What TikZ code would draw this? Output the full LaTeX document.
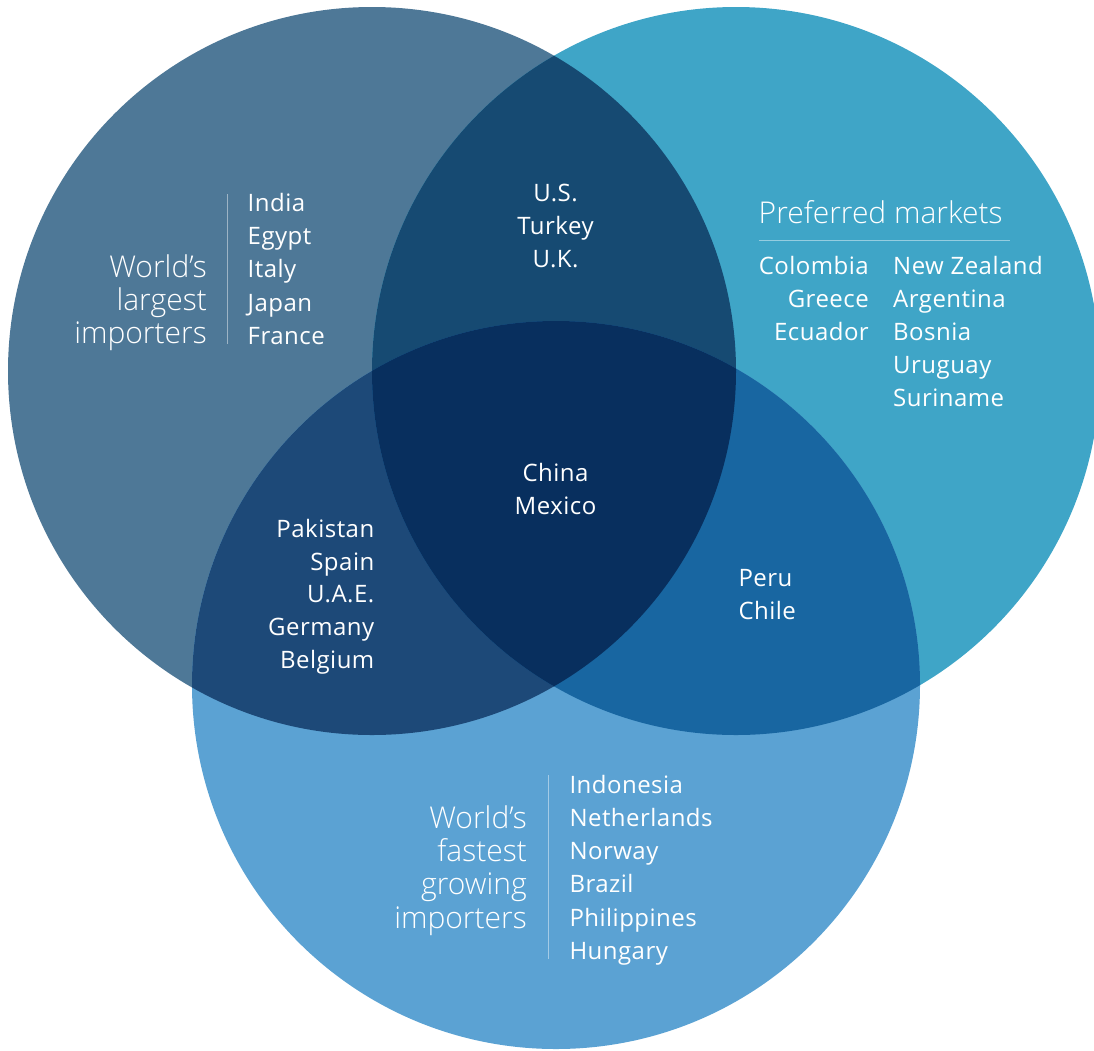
\documentclass[tikz,border=0pt]{standalone}
\usepackage{fontspec}
\setmainfont{Open Sans}
\newfontfamily\nfam[LetterSpace=2]{Open Sans}
\IfFontExistsTF{Open Sans Light}{\newfontfamily\tfam{Open Sans Light}}{%
  \IfFontExistsTF{Lato Light}{\newfontfamily\tfam{Lato Light}}{\newfontfamily\tfam{Open Sans}}}
\definecolor{cL}{HTML}{4E7897}
\definecolor{cR}{HTML}{3FA5C7}
\definecolor{cB}{HTML}{5BA2D3}
\definecolor{cLR}{HTML}{164A72}
\definecolor{cLB}{HTML}{1D4978}
\definecolor{cRB}{HTML}{1866A1}
\definecolor{cAll}{HTML}{082F5E}
\begin{document}
\begin{tikzpicture}[x=1pt,y=-1pt,
  nm/.style={text=white, inner sep=0pt, font=\nfam\fontsize{24}{28}\selectfont},
  ttl/.style={text=white, inner sep=0pt, font=\tfam\fontsize{30}{34}\selectfont},
  sepline/.style={draw=white, draw opacity=0.45, line width=1.2pt}]
\useasboundingbox (0,0) rectangle (1094,1050);
\coordinate (A) at (372,371);
\coordinate (B) at (736,371);
\coordinate (C) at (556,685);
% single circles
\fill[cL] (A) circle[radius=364];
\fill[cR] (B) circle[radius=364];
\fill[cB] (C) circle[radius=364];
% pairwise
\begin{scope}\clip (A) circle[radius=364]; \fill[cLR] (B) circle[radius=364];\end{scope}
\begin{scope}\clip (A) circle[radius=364]; \fill[cLB] (C) circle[radius=364];\end{scope}
\begin{scope}\clip (B) circle[radius=364]; \fill[cRB] (C) circle[radius=364];\end{scope}
\begin{scope}\clip (A) circle[radius=364]; \clip (B) circle[radius=364]; \fill[cAll] (C) circle[radius=364];\end{scope}

% left circle
\foreach \t [count=\i from 0] in {World’s,largest,importers}
  \node[ttl, anchor=base east] (lt\i) at (207,{277.3+33.1*\i}) {\t};
\coordinate (ls1) at (227.5,194);
\coordinate (ls2) at (227.5,344);
\draw[sepline] (ls1) -- (ls2);
\foreach \t [count=\i from 0] in {India,Egypt,Italy,Japan,France}
  \node[nm, anchor=base west] (ll\i) at (247.5,{211.7+33.1*\i}) {\t};

% right circle
\node[ttl, anchor=base west] (rt) at (758.5,223.3) {Preferred markets};
\coordinate (rs1) at (759,240.7);
\coordinate (rs2) at (1010,240.7);
\draw[sepline] (rs1) -- (rs2);
\foreach \t [count=\i from 0] in {Colombia,Greece,Ecuador}
  \node[nm, anchor=base east] (ra\i) at (869,{274.3+33*\i}) {\t};
\foreach \t [count=\i from 0] in {New Zealand,Argentina,Bosnia,Uruguay,Suriname}
  \node[nm, anchor=base west] (rb\i) at (893,{274.3+33.1*\i}) {\t};

% bottom circle
\foreach \t [count=\i from 0] in {World’s,fastest,growing,importers}
  \node[ttl, anchor=base east] (bt\i) at (527,{828.3+33.3*\i}) {\t};
\coordinate (bs1) at (548.3,775);
\coordinate (bs2) at (548.3,959.3);
\draw[sepline] (bs1) -- (bs2);
\foreach \t [count=\i from 0] in {Indonesia,Netherlands,Norway,Brazil,Philippines,Hungary}
  \node[nm, anchor=base west] (bl\i) at (569.3,{793.3+33.2*\i}) {\t};

% left-right
\foreach \t [count=\i from 0] in {U.S.,Turkey,U.K.}
  \node[nm, anchor=base] (lr\i) at (555.5,{201+33*\i}) {\t};
% left-bottom
\foreach \t [count=\i from 0] in {Pakistan,Spain,U.A.E.,Germany,Belgium}
  \node[nm, anchor=base east] (lb\i) at (374.5,{537.3+32.8*\i}) {\t};
% right-bottom
\foreach \t [count=\i from 0] in {Peru,Chile}
  \node[nm, anchor=base west] (rbx\i) at (738.3,{586.7+32.7*\i}) {\t};
% centre
\foreach \t [count=\i from 0] in {China,Mexico}
  \node[nm, anchor=base] (c\i) at (555.5,{481.7+32.6*\i}) {\t};
\end{tikzpicture}
\end{document}
